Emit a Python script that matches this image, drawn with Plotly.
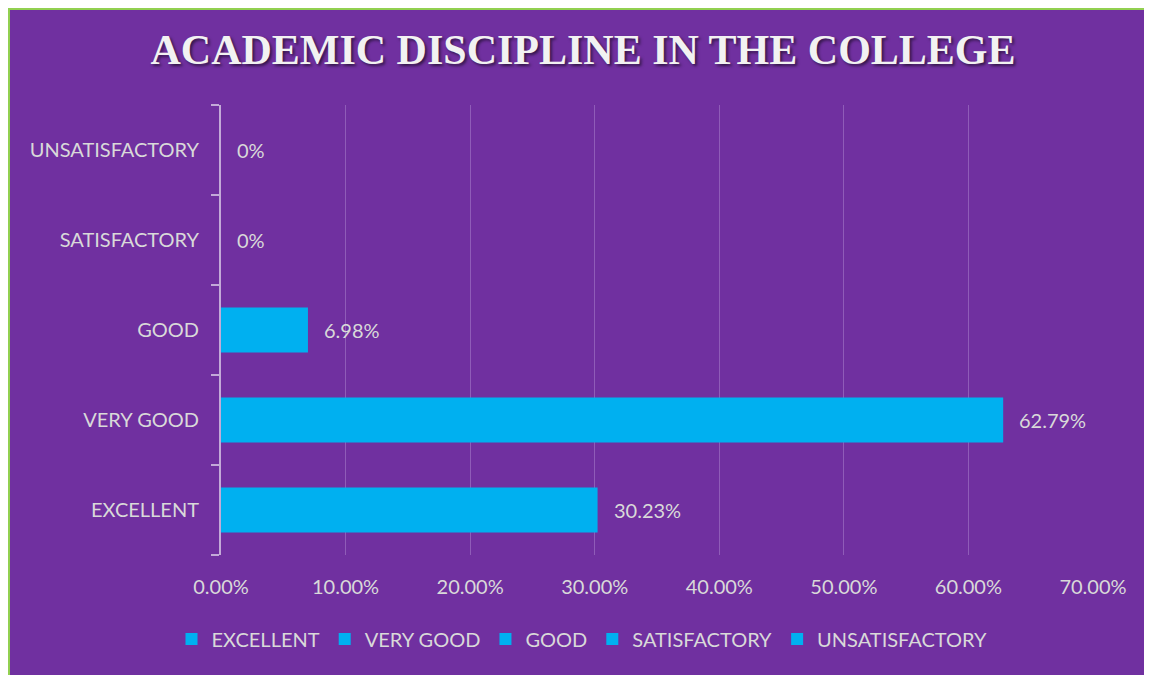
import plotly.graph_objects as go

categories = ["EXCELLENT", "VERY GOOD", "GOOD", "SATISFACTORY", "UNSATISFACTORY"]
values = [0.3023, 0.6279, 0.0698, 0.0, 0.0]
labels = ["30.23%", "62.79%", "6.98%", "0%", "0%"]
x_ticks = [0, 0.1, 0.2, 0.3, 0.4, 0.5, 0.6, 0.7]

BAR = "#00B0F0"
BG = "#7030A0"
TXT = "#D9D9D9"
BORDER = "#92D050"
FONT = "Lato, 'Noto Sans', sans-serif"

fig = go.Figure()
for c, v in zip(categories, values):
    fig.add_trace(go.Bar(
        x=[v], y=[c], orientation="h", name=c, width=0.5,
        marker=dict(color=BAR, line=dict(width=0)),
        hoverinfo="skip",
    ))

for c, v, t in zip(categories, values, labels):
    fig.add_annotation(x=v, y=c, text=t, showarrow=False, xanchor="left",
                       xshift=14, font=dict(family=FONT, size=20, color=TXT))

# the page has an 8px body margin, so the figure is offset by 8px
OFF = 8
W, H = 1152 - OFF, 675 - OFF
L, R, T, B = 221 - OFF, 1152 - 1093, 105 - OFF, 675 - 555
pw, ph = W - L - R, H - T - B

def px_x(p):
    return (p - OFF - L) / pw

def px_y(p):
    return (H - B - (p - OFF)) / ph

# green frame on the left and top edges
fig.add_shape(type="line", xref="paper", yref="paper",
              x0=px_x(9), x1=px_x(9), y0=px_y(700), y1=px_y(8),
              line=dict(color=BORDER, width=2), layer="below")
fig.add_shape(type="line", xref="paper", yref="paper",
              x0=px_x(8), x1=px_x(1170), y0=px_y(9), y1=px_y(9),
              line=dict(color=BORDER, width=2), layer="below")

fig.update_layout(
    width=W, height=H,
    margin=dict(l=L, r=R, t=T, b=B, autoexpand=False),
    paper_bgcolor=BG,
    plot_bgcolor="rgba(0,0,0,0)",
    barmode="overlay",
    title=dict(text="ACADEMIC DISCIPLINE IN THE COLLEGE",
               x=(583 - OFF) / W, xanchor="center", y=1 - (49 - OFF) / H, yanchor="middle",
               yref="container",
               font=dict(family="'Liberation Serif', serif", size=42, color="#F2F2F2",
                         weight="bold", shadow="2px 2px 3px rgba(0,0,0,0.55)")),
    xaxis=dict(range=[0, 0.7], tickvals=x_ticks, tickformat=".2%",
               showgrid=True, gridcolor="rgba(190,160,220,0.4)", gridwidth=1,
               zeroline=False, showline=False, ticks="",
               ticklabelstandoff=18,
               tickfont=dict(family=FONT, size=20, color=TXT), fixedrange=True),
    yaxis=dict(categoryorder="array", categoryarray=categories,
               showline=True, linecolor="#C3AAD8", linewidth=2,
               ticks="outside", tickson="boundaries", ticklen=8, tickwidth=2,
               tickcolor="#C3AAD8", showgrid=False, zeroline=False,
               ticklabelstandoff=16,
               tickfont=dict(family=FONT, size=20, color=TXT), fixedrange=True),
    legend=dict(orientation="h", x=px_x(582), xanchor="center", y=px_y(639), yanchor="middle",
                font=dict(family=FONT, size=20, color=TXT), bgcolor="rgba(0,0,0,0)",
                itemwidth=30, traceorder="normal"),
    showlegend=True,
)

fig.write_html("out.html")
